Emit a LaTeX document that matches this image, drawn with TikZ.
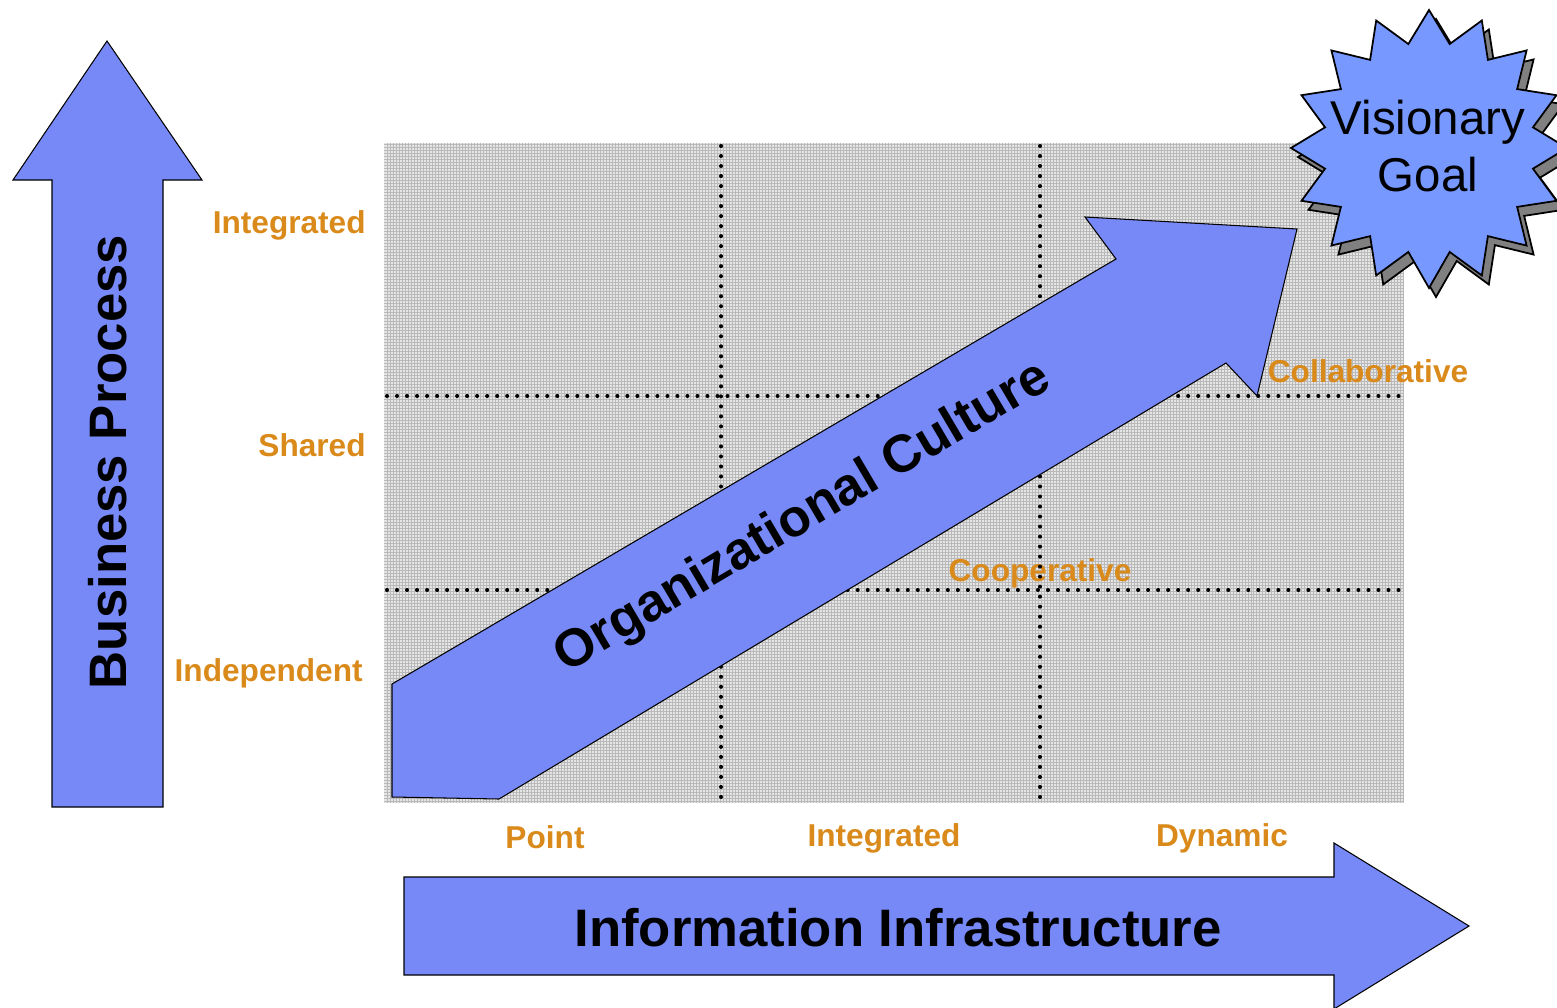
\documentclass[tikz,border=0pt]{standalone}
\usepackage{fontspec}
\setmainfont{Liberation Sans}

\definecolor{arrowblue}{HTML}{7789F7}
\definecolor{starblue}{HTML}{7799FF}
\definecolor{labelorange}{HTML}{D98A1A}

\tikzset{
  blockarrow/.style={draw=black,line width=0.6pt,fill=arrowblue},
  dotline/.style={line width=2.3pt,line cap=round,dash pattern=on 0pt off 5.7pt},
  levellabel/.style={text=labelorange,font=\fontsize{18}{20}\selectfont\bfseries,inner sep=0pt},
  bigtext/.style={font=\fontsize{30}{34}\selectfont\bfseries,inner sep=0pt}
}

\begin{document}
\begin{tikzpicture}[x=0.02cm,y=-0.02cm]
  \useasboundingbox (0,0) rectangle (1557,1007);

  % grilă
  \fill[gray!20] (384,143) rectangle (1404,803);
  \draw[gray!55,line width=0.25pt,step=0.06cm] (384,143) grid (1404,803);

  % etichete
  \node[levellabel,anchor=east] (bpInt) at (366,225) {Integrated};
  \node[levellabel,anchor=east] (bpShared) at (366,445) {Shared};
  \node[levellabel,anchor=east] (bpIndep) at (363,673) {Independent};
  \node[levellabel] (iiPoint) at (545,837) {Point};
  \node[levellabel] (iiInt) at (884,838) {Integrated};
  \node[levellabel] (iiDyn) at (1222,838) {Dynamic};
  \node[levellabel] (coop) at (1040,573) {Cooperative};
  \node[levellabel] (collab) at (1368,371) {Collaborative};

  % linii punctate
  \draw[dotline] (721,146) -- (721,801);
  \draw[dotline] (1040,146) -- (1040,801);
  \draw[dotline] (387,396) -- (1402,396);
  \draw[dotline] (387,590) -- (1402,590);

  % săgeți
  \draw[blockarrow] (52,807) -- (52,180) -- (13,180) -- (107,41) -- (202,180) -- (163,180) -- (163,807) -- cycle;
  \draw[blockarrow] (404,877) -- (1334,877) -- (1334,843) -- (1469,926) -- (1334,1009) -- (1334,975) -- (404,975) -- cycle;
  \draw[blockarrow] (392,684) -- (1116,259) -- (1085,217) -- (1297,229) -- (1257,396) -- (1226,363) -- (499,799) -- (392,797) -- cycle;

  \node[bigtext,rotate=90] (bp) at (108,462) {Business Process};
  \node[bigtext] (ii) at (898,928) {Information Infrastructure};
  \node[bigtext,rotate=30.5] (oc) at (803,518) {Organizational Culture};

  % stea
  \foreach \dx/\dy/\col in {7/9/gray,0/0/starblue}
    \draw[line width=1pt,fill=\col,shift={(1429+\dx,148+\dy)}] (90:140)
      \foreach \i in {1,...,31} { -- ({90+\i*11.25}:{ifthenelse(mod(\i,2)==0,138,106)}) } -- cycle;
  \node[align=center,font=\fontsize{27}{32}\selectfont,inner sep=0pt] (goal) at (1428,146) {Visionary\\Goal};
\end{tikzpicture}
\end{document}
